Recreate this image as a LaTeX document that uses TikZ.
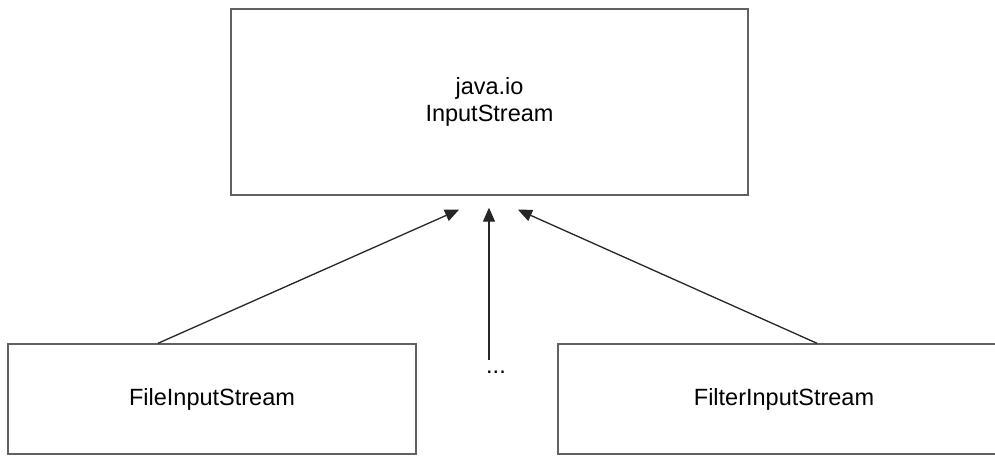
\documentclass[tikz,border=0pt]{standalone}
\usepackage{fontspec}
\setmainfont{Liberation Sans}
\usetikzlibrary{arrows.meta}
\begin{document}
\begin{tikzpicture}[x=1pt,y=-1pt,
  classbox/.style={draw=black!62, line width=1.4pt, fill=white, inner sep=0pt,
    font=\fontsize{23.5}{27}\selectfont, align=center},
  inherit/.style={draw=black!85, line width=1.3pt,
    -{Triangle[length=14pt,width=12pt]}},
  label/.style={font=\fontsize{23.5}{27}\selectfont, inner sep=0pt}
]
\useasboundingbox (0,0) rectangle (995,455);
\clip (0,0) rectangle (995,455);
\fill[white] (0,0) rectangle (995,455);

% base class
\node[classbox, minimum width=517pt, minimum height=186pt] (base) at (489.5,102)
  {java.io\\InputStream};

% subclasses
\node[classbox, minimum width=408pt, minimum height=110pt] (file) at (212,399)
  {FileInputStream};
\node[classbox, minimum width=452pt, minimum height=110pt] (filter) at (784,399)
  {FilterInputStream};
\node[label] (dots) at (496,372) {...};

% arrow tips just below the base class
\coordinate (tipL) at ([xshift=-30.5pt,yshift=-14pt]base.south);
\coordinate (tipM) at ([xshift=-0.5pt,yshift=-12pt]base.south);
\coordinate (tipR) at ([xshift=28.5pt,yshift=-14pt]base.south);
\coordinate (dotsTop) at ([yshift=11pt]dots.north -| tipM);

\draw[inherit] ([xshift=-54pt]file.north) -- (tipL);
\draw[inherit] (dotsTop) -- (tipM);
\draw[inherit] ([xshift=33pt]filter.north) -- (tipR);
\end{tikzpicture}
\end{document}
